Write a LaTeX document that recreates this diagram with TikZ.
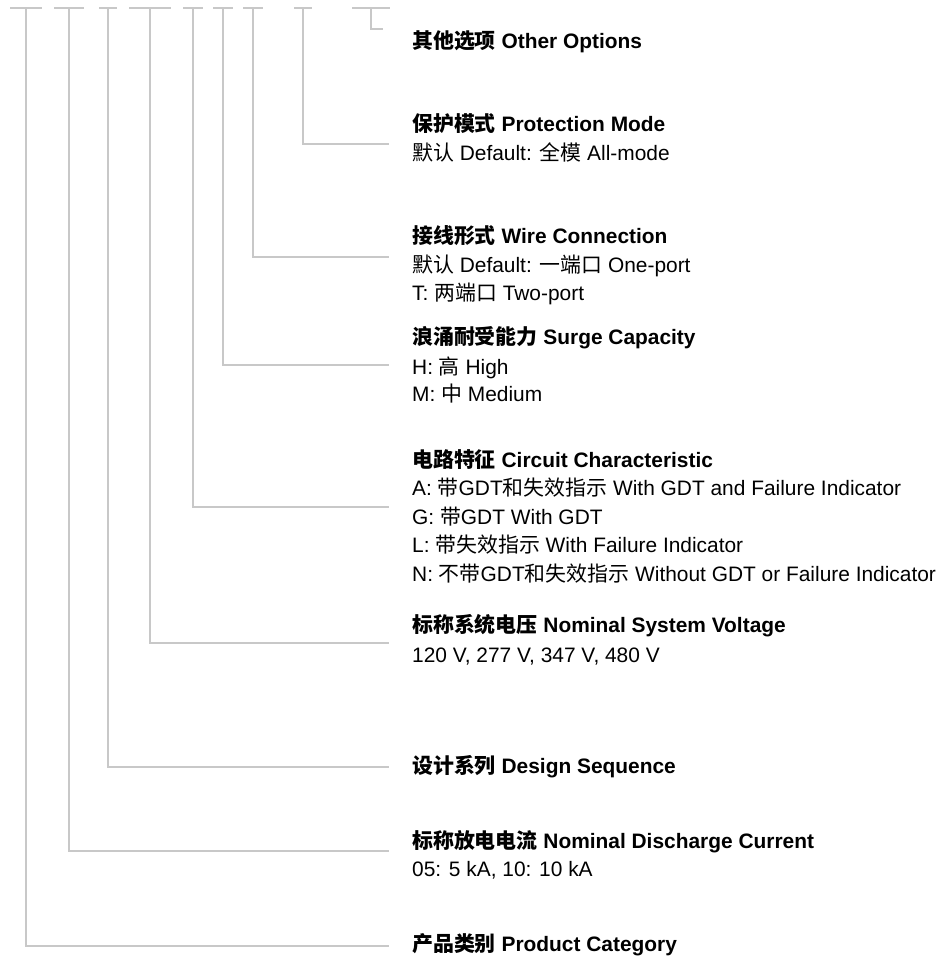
\documentclass[tikz,border=0pt]{standalone}
\usepackage{fontspec}
\setmainfont{Liberation Sans}
\newfontfamily\cjk{Noto Sans CJK SC}
\newcommand{\zh}[1]{{\cjk #1}}
\definecolor{linegray}{RGB}{200,200,200}
\definecolor{txt}{RGB}{0,0,0}
\tikzset{
  conn/.style={draw=linegray, line width=1.5pt},
  rowtxt/.style={anchor=west, inner sep=0pt, text height=15pt, text depth=4pt, text=txt, font=\fontsize{20.9}{24}\selectfont},
  headtxt/.style={rowtxt, font=\fontsize{20.9}{24}\selectfont\bfseries},
}
\begin{document}
\begin{tikzpicture}[x=1pt,y=-1pt]
\fill[white] (0,0) rectangle (943,958);
\useasboundingbox (0,0) rectangle (943,958);
% T tops
\coordinate (t1) at (26,8);
\coordinate (t2) at (69,8);
\coordinate (t3) at (108,8);
\coordinate (t4) at (150,8);
\coordinate (t5) at (193,8);
\coordinate (t6) at (223,8);
\coordinate (t7) at (253,8);
\coordinate (t8) at (303,8);
\coordinate (t9) at (371,8);
\draw[conn] ([xshift=-16pt]t1) -- ([xshift=16pt]t1);
\draw[conn] ([xshift=-15pt]t2) -- ([xshift=15pt]t2);
\draw[conn] ([xshift=-9pt]t3) -- ([xshift=9pt]t3);
\draw[conn] ([xshift=-21pt]t4) -- ([xshift=21pt]t4);
\draw[conn] ([xshift=-10pt]t5) -- ([xshift=10pt]t5);
\draw[conn] ([xshift=-10pt]t6) -- ([xshift=10pt]t6);
\draw[conn] ([xshift=-10pt]t7) -- ([xshift=10pt]t7);
\draw[conn] ([xshift=-9pt]t8) -- ([xshift=9pt]t8);
\draw[conn] ([xshift=-19pt]t9) -- ([xshift=19pt]t9);
% line ends
\coordinate (e9) at (383,29);
\coordinate (e8) at (389,144);
\coordinate (e7) at (389,257);
\coordinate (e6) at (389,365);
\coordinate (e5) at (389,507);
\coordinate (e4) at (389,643);
\coordinate (e3) at (389,767);
\coordinate (e2) at (389,851);
\coordinate (e1) at (389,946);
% texts
\node[headtxt] (b9) at (412,43) {\zh{其他选项} Other Options};
\node[headtxt] (b8) at (412,126) {\zh{保护模式} Protection Mode};
\node[rowtxt] (b8a) at (412,155) {\zh{默认} Default: \zh{全模} All-mode};
\node[headtxt] (b7) at (412,238) {\zh{接线形式} Wire Connection};
\node[rowtxt] (b7a) at (412,267) {\zh{默认} Default: \zh{一端口} One-port};
\node[rowtxt] (b7b) at (412,295) {T: \zh{两端口} Two-port};
\node[headtxt] (b6) at (412,339) {\zh{浪涌耐受能力} Surge Capacity};
\node[rowtxt] (b6a) at (412,369) {H: \zh{高} High};
\node[rowtxt] (b6b) at (412,396) {M: \zh{中} Medium};
\node[headtxt] (b5) at (412,462) {\zh{电路特征} Circuit Characteristic};
\node[rowtxt] (b5a) at (412,490) {A: \zh{带}GDT\zh{和失效指示} With GDT and Failure Indicator};
\node[rowtxt] (b5b) at (412,519) {G: \zh{带}GDT With GDT};
\node[rowtxt] (b5c) at (412,547) {L: \zh{带失效指示} With Failure Indicator};
\node[rowtxt] (b5d) at (412,576) {N: \zh{不带}GDT\zh{和失效指示} Without GDT or Failure Indicator};
\node[headtxt] (b4) at (412,627) {\zh{标称系统电压} Nominal System Voltage};
\node[rowtxt] (b4a) at (412,657) {120 V, 277 V, 347 V, 480 V};
\node[headtxt] (b3) at (412,768) {\zh{设计系列} Design Sequence};
\node[headtxt] (b2) at (412,843) {\zh{标称放电电流} Nominal Discharge Current};
\node[rowtxt] (b2a) at (412,871) {05: 5 kA, 10: 10 kA};
\node[headtxt] (b1) at (412,946) {\zh{产品类别} Product Category};
% connectors
\draw[conn] (t1) |- (e1);
\draw[conn] (t2) |- (e2);
\draw[conn] (t3) |- (e3);
\draw[conn] (t4) |- (e4);
\draw[conn] (t5) |- (e5);
\draw[conn] (t6) |- (e6);
\draw[conn] (t7) |- (e7);
\draw[conn] (t8) |- (e8);
\draw[conn] (t9) |- (e9);
\end{tikzpicture}
\end{document}
